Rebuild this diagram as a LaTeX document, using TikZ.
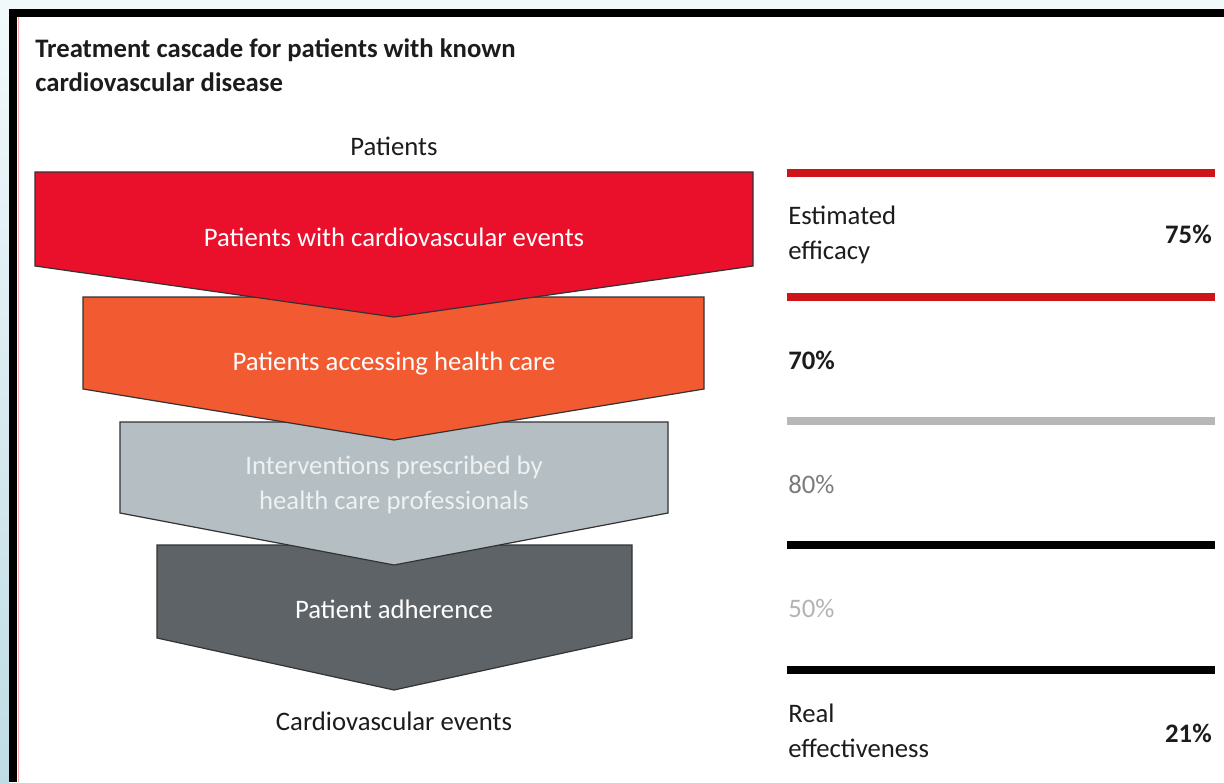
\documentclass[tikz,border=0pt]{standalone}
\usepackage{fontspec}
\setmainfont{Carlito}
\usetikzlibrary{positioning}

\definecolor{bgblue}{HTML}{F2F9FB}
\definecolor{stripblue}{HTML}{BFDCE5}
\definecolor{cvred}{HTML}{EA0F2B}
\definecolor{cvorange}{HTML}{F25A32}
\definecolor{cvlight}{HTML}{B4BEC3}
\definecolor{cvdark}{HTML}{5E6367}
\definecolor{rulered}{HTML}{CC1419}
\definecolor{rulegray}{HTML}{B7B7B7}
\definecolor{lighttext}{HTML}{EEF1F2}
\definecolor{midgray}{HTML}{7C7C7C}
\definecolor{palegray}{HTML}{B3B3B3}
\definecolor{ink}{HTML}{1C1C1C}

\begin{document}
\begin{tikzpicture}[x=0.25mm, y=-0.25mm,
		txt/.style={font=\fontsize{19}{24.5}\selectfont, inner sep=0pt, text=ink},
		boldtxt/.style={font=\fontsize{19}{24.5}\selectfont\bfseries, inner sep=0pt, text=ink},
		stage/.style={draw=black!80, line width=0.3mm},
		rule/.style={line width=1.8mm}]
	\useasboundingbox (0,0) rectangle (1224,782);

	% frame of the slide
	\fill[bgblue] (0,0) rectangle (1224,782);
	\shade[top color=bgblue, bottom color=stripblue] (0,9) rectangle (9,782);
	\fill[white] (17,17) rectangle (1224,782);
	\fill[black] (9,9) rectangle (1224,17);
	\fill[black] (9,9) rectangle (17,782);
	\draw[red!35, line width=0.3mm] (18.5,17) -- (18.5,782);

	\node[boldtxt, anchor=base west, align=left] (title) at (35,92)
		{Treatment cascade for patients with known\\cardiovascular disease};

	% the cascade, lowest stage first
	\draw[stage, fill=cvdark] (157,545) -- (632,545) -- (632,638) -- (394,690) -- (157,638) -- cycle;
	\draw[stage, fill=cvlight] (120,422) -- (668,422) -- (668,513) -- (394,565) -- (120,513) -- cycle;
	\draw[stage, fill=cvorange] (83,297) -- (704,297) -- (704,389) -- (394,440) -- (83,389) -- cycle;
	\draw[stage, fill=cvred] (35,172) -- (753,172) -- (753,266) -- (394,317) -- (35,266) -- cycle;

	\node[txt, anchor=base] (patients) at (394,155) {Patients};
	\node[txt, text=white, anchor=base] (events) at (394,246) {Patients with cardiovascular events};
	\node[txt, text=white, anchor=base] (access) at (394,370) {Patients accessing health care};
	\node[txt, text=lighttext, anchor=base, align=center] (prescribed) at (394,509)
		{Interventions prescribed by\\health care professionals};
	\node[txt, text=white, anchor=base] (adherence) at (394,618) {Patient adherence};
	\node[txt, anchor=base] (cvevents) at (394,730) {Cardiovascular events};

	% rates on the right
	\draw[rule, rulered] (787,173) -- (1215,173);
	\draw[rule, rulered] (787,297) -- (1215,297);
	\draw[rule, rulegray] (787,421) -- (1215,421);
	\draw[rule, black] (787,545) -- (1215,545);
	\draw[rule, black] (787,670) -- (1215,670);

	\node[txt, anchor=base west, align=left] (efficacy) at (788,259) {Estimated\\efficacy};
	\node[boldtxt, anchor=base east] (p75) at (1212,243) {75\%};
	\node[boldtxt, anchor=base west] (p70) at (788,369) {70\%};
	\node[txt, text=midgray, anchor=base west] (p80) at (788,493) {80\%};
	\node[txt, text=palegray, anchor=base west] (p50) at (788,617) {50\%};
	\node[txt, anchor=base west, align=left] (real) at (788,757) {Real\\effectiveness};
	\node[boldtxt, anchor=base east] (p21) at (1212,742) {21\%};
\end{tikzpicture}
\end{document}
